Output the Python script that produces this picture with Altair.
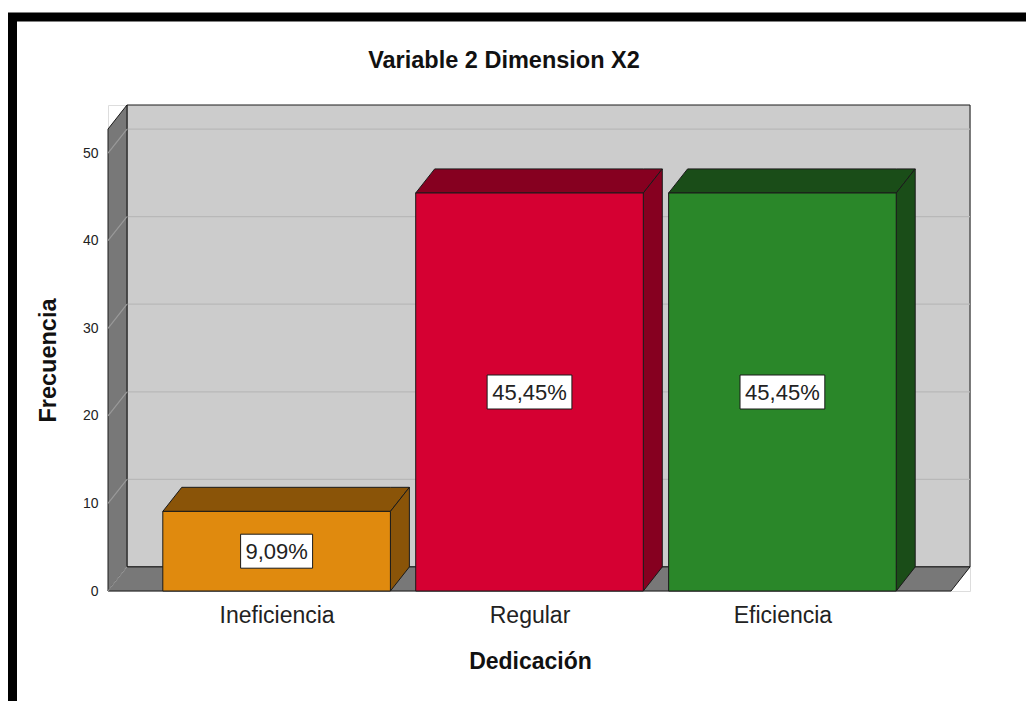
import json
import altair as alt
import pandas as pd

# ---------------- data ----------------
categories = ["Ineficiencia", "Regular", "Eficiencia"]
bar_heights = [9.09, 45.45, 45.45]
percent_labels = ["9,09%", "45,45%", "45,45%"]
front_colors = ["#E08A0E", "#D50032", "#2A8729"]
shade_colors = ["#8A5408", "#860020", "#1A4D18"]
y_ticks = [0, 10, 20, 30, 40, 50]

title_text = "Variable 2 Dimension X2"
x_title = "Dedicación"
y_title = "Frecuencia"

# ---------------- 3-D projection / layout constants ----------------
PLOT_W, PLOT_H = 862, 486
X_LO = 1 / 3                      # front plane left edge (category units)
X_HI = len(categories) + 2 / 3    # front plane right edge
DX = 0.075                        # depth in x (category units)
DY = 2.75                         # depth in y (value units)
Y_TOP = 55.5                      # top of back wall
HW = 0.45                         # half bar width
PX_X = PLOT_W / (X_HI + DX - X_LO)
PX_Y = PLOT_H / Y_TOP

EDGE = "#1a1a1a"
WALL = "#cccccc"
SIDE = "#787878"
FONT = "Liberation Sans"

xs = alt.Scale(domain=[X_LO, X_HI + DX], nice=False, zero=False)
ys = alt.Scale(domain=[0, Y_TOP], nice=False, zero=False)

# ---------------- derived tables ----------------
back_wall = pd.DataFrame([{"x": X_LO + DX, "x2": X_HI + DX, "y": DY, "y2": Y_TOP}])
back_grid = pd.DataFrame([{"x": X_LO + DX, "x2": X_HI + DX, "y": t + DY} for t in y_ticks if t > 0])

wall_rows = [
    {"id": "a_side", "x": X_LO, "y": 0, "y2": Y_TOP - DY, "fill": SIDE},
    {"id": "a_side", "x": X_LO + DX, "y": DY, "y2": Y_TOP, "fill": SIDE},
    {"id": "b_floor", "x": X_LO, "y": 0, "y2": 0, "fill": SIDE},
    {"id": "b_floor", "x": X_LO + DX, "y": 0, "y2": DY, "fill": SIDE},
    {"id": "b_floor", "x": X_HI, "y": 0, "y2": DY, "fill": SIDE},
    {"id": "b_floor", "x": X_HI + DX, "y": DY, "y2": DY, "fill": SIDE},
]
walls = pd.DataFrame(wall_rows)

side_grid = pd.DataFrame(
    [{"t": t, "x": X_LO, "y": t} for t in y_ticks]
    + [{"t": t, "x": X_LO + DX, "y": t + DY} for t in y_ticks]
)

shade_rows, front_rows, box_rows, text_rows = [], [], [], []
for i, (cat, v, lab, fc, sc) in enumerate(zip(categories, bar_heights, percent_labels, front_colors, shade_colors)):
    c = i + 1
    l, r = c - HW, c + HW
    tid, sid = f"top{i}", f"side{i}"
    shade_rows += [
        {"id": tid, "x": l, "y": v, "y2": v, "fill": sc},
        {"id": tid, "x": l + DX, "y": v, "y2": v + DY, "fill": sc},
        {"id": tid, "x": r, "y": v, "y2": v + DY, "fill": sc},
        {"id": tid, "x": r + DX, "y": v + DY, "y2": v + DY, "fill": sc},
        {"id": sid, "x": r, "y": 0, "y2": v, "fill": sc},
        {"id": sid, "x": r + DX, "y": DY, "y2": v + DY, "fill": sc},
    ]
    front_rows.append({"cat": cat, "x": l, "x2": r, "y": 0, "y2": v, "fill": fc})
    half_w = (6.4 * len(lab) + 4) / PX_X
    half_h = 17 / PX_Y
    box_rows.append({"x": c - half_w, "x2": c + half_w, "y": v / 2 - half_h, "y2": v / 2 + half_h})
    text_rows.append({"x": c, "y": v / 2, "label": lab})

shades = pd.DataFrame(shade_rows)
fronts = pd.DataFrame(front_rows)
boxes = pd.DataFrame(box_rows)
texts = pd.DataFrame(text_rows)

label_expr = json.dumps(categories) + "[round(datum.value) - 1]"

x_axis = alt.Axis(
    values=[1, 2, 3], labelExpr=label_expr, grid=False, ticks=False, domain=False,
    labelFontSize=23, labelColor="#222", labelBaseline="alphabetic", labelPadding=31,
    labelFont=FONT, title=x_title, titleFont=FONT, titleFontSize=23, titleFontWeight="bold",
    titleColor="#111", titleX=422, titleY=77, titleBaseline="alphabetic",
)
y_axis = alt.Axis(
    values=y_ticks, grid=False, ticks=False, domain=False, labelFontSize=14,
    labelColor="#222", labelPadding=10, labelFont=FONT,
    title=y_title, titleFont=FONT, titleFontSize=23.5, titleFontWeight="bold", titleColor="#111",
    titleX=-53, titleY=255, titleBaseline="alphabetic", titleAngle=-90,
)


def X(field="x"):
    return alt.X(f"{field}:Q", scale=xs, axis=x_axis)


def Y(field="y"):
    return alt.Y(f"{field}:Q", scale=ys, axis=y_axis)


base_wall = alt.Chart(back_wall).mark_rect(fill=WALL, stroke=EDGE, strokeWidth=1).encode(
    x=X(), x2="x2:Q", y=Y(), y2="y2:Q",
)
grid_back = alt.Chart(back_grid).mark_rule(color="#b8b8b8", strokeWidth=1.2).encode(
    x=X(), x2="x2:Q", y=Y()
)
wall_areas = alt.Chart(walls).mark_area(stroke=EDGE, strokeWidth=1, opacity=1).encode(
    x=X(), y=Y(), y2="y2:Q", detail="id:N", color=alt.Color("fill:N", scale=None),
)
grid_side = alt.Chart(side_grid).mark_line(color="#9a9a9a", strokeWidth=1.2).encode(
    x=X(), y=Y(), detail="t:N"
)
bar_shades = alt.Chart(shades).mark_area(stroke=EDGE, strokeWidth=1, opacity=1).encode(
    x=X(), y=Y(), y2="y2:Q", detail="id:N", color=alt.Color("fill:N", scale=None),
)
bar_fronts = alt.Chart(fronts).mark_rect(stroke=EDGE, strokeWidth=1).encode(
    x=X(), x2="x2:Q", y=Y(), y2="y2:Q", color=alt.Color("fill:N", scale=None),
)
label_boxes = alt.Chart(boxes).mark_rect(fill="white", stroke=EDGE, strokeWidth=1).encode(
    x=X(), x2="x2:Q", y=Y(), y2="y2:Q",
)
label_text = alt.Chart(texts).mark_text(
    font=FONT, fontSize=22, color="#222", align="center", baseline="middle", dy=1
).encode(x=X(), y=Y(), text="label:N")

title_mark = alt.Chart(pd.DataFrame({"t": [title_text]})).mark_text(
    font=FONT, fontSize=23.5, fontWeight="bold", color="#111", align="center", baseline="alphabetic"
).encode(x=alt.value(396), y=alt.value(-37), text="t:N")

frame_top = alt.Chart(pd.DataFrame({"k": [0]})).mark_rule(color="black", strokeWidth=9).encode(
    x=alt.value(-100), x2=alt.value(918), y=alt.value(-88)
)
frame_left = alt.Chart(pd.DataFrame({"k": [0]})).mark_rule(color="black", strokeWidth=9).encode(
    x=alt.value(-95.5), y=alt.value(-92), y2=alt.value(596)
)

chart = alt.layer(
    base_wall, grid_back, wall_areas, grid_side, bar_shades, bar_fronts,
    label_boxes, label_text, title_mark, frame_top, frame_left,
).properties(
    width=PLOT_W, height=PLOT_H,
    autosize=alt.AutoSizeParams(type="none"),
    padding={"left": 108, "top": 105, "right": 56, "bottom": 110},
    background="white",
).configure_view(strokeWidth=0).configure(font=FONT)

chart.save("out.html", embed_options={"renderer": "svg", "actions": False})
